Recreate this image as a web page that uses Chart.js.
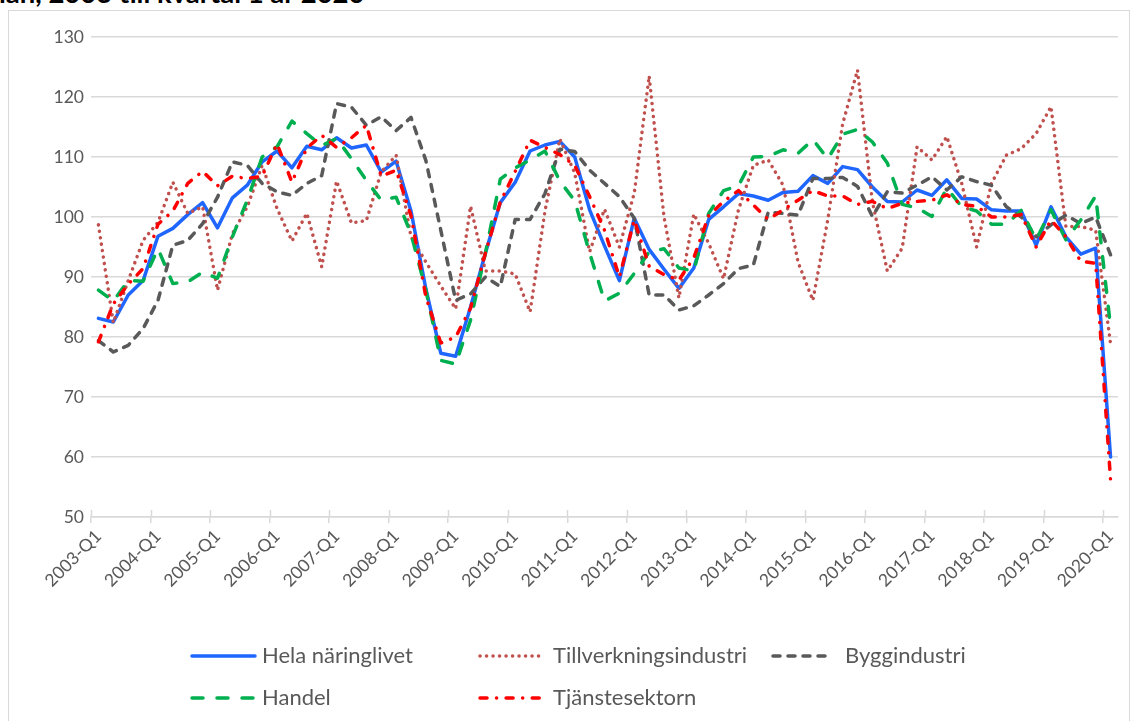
<!DOCTYPE html>
<html>
<head>
<meta charset="utf-8">
<script src="https://cdn.jsdelivr.net/npm/chart.js@4/dist/chart.umd.min.js"></script>
<style>
  html, body { margin: 0; padding: 0; background: #ffffff; overflow: hidden; }
  #wrap { position: relative; width: 1134px; height: 721px; overflow: hidden; }
  #frame { position: absolute; left: 8px; top: 10px; width: 1122px; height: 740px; border: 1.5px solid #d9d9d9; box-sizing: border-box; }
  #title { position: absolute; left: -1px; top: -21px; font: bold 27.5px Lato, "Open Sans", sans-serif; color: #000; white-space: nowrap; line-height: 27.5px; }
  #c { position: absolute; left: 0; top: 0; }
</style>
</head>
<body>
<div id="wrap">
  <div id="title">lan, 2003 till kvartal 1 år 2020</div>
  <div id="frame"></div>
  <canvas id="c" width="1134" height="721"></canvas>
</div>
<script>
const categories = [
  '2003-Q1','2003-Q2','2003-Q3','2003-Q4','2004-Q1','2004-Q2','2004-Q3','2004-Q4',
  '2005-Q1','2005-Q2','2005-Q3','2005-Q4','2006-Q1','2006-Q2','2006-Q3','2006-Q4',
  '2007-Q1','2007-Q2','2007-Q3','2007-Q4','2008-Q1','2008-Q2','2008-Q3','2008-Q4',
  '2009-Q1','2009-Q2','2009-Q3','2009-Q4','2010-Q1','2010-Q2','2010-Q3','2010-Q4',
  '2011-Q1','2011-Q2','2011-Q3','2011-Q4','2012-Q1','2012-Q2','2012-Q3','2012-Q4',
  '2013-Q1','2013-Q2','2013-Q3','2013-Q4','2014-Q1','2014-Q2','2014-Q3','2014-Q4',
  '2015-Q1','2015-Q2','2015-Q3','2015-Q4','2016-Q1','2016-Q2','2016-Q3','2016-Q4',
  '2017-Q1','2017-Q2','2017-Q3','2017-Q4','2018-Q1','2018-Q2','2018-Q3','2018-Q4',
  '2019-Q1','2019-Q2','2019-Q3','2019-Q4','2020-Q1'
];

const helaNaringslivet = [83.1,82.5,87.0,89.4,96.8,98.1,100.4,102.4,98.2,103.2,
  105.3,109.2,111.0,108.2,111.8,111.2,113.2,111.5,112.0,107.5,
  109.3,101.0,88.0,77.3,76.8,85.0,94.0,102.4,105.8,111.0,
  112.0,112.6,110.0,101.2,95.2,89.4,99.8,94.6,91.3,88.1,
  91.5,99.6,101.7,103.9,103.5,102.8,104.1,104.3,106.9,105.6,
  108.4,107.9,105.0,102.6,102.5,104.5,103.6,106.2,103.1,103.0,
  101.2,101.0,101.0,95.3,101.7,96.7,93.8,94.8,60.0];

const tillverkningsindustri = [98.7,82.4,89.4,96.1,99.1,105.8,100.6,101.7,87.8,97.2,
  101.7,108.6,101.4,96.0,100.6,91.7,106.0,99.0,99.4,107.5,
  110.3,96.7,92.5,88.5,84.7,101.8,91.0,91.0,90.5,84.2,
  101.0,113.0,107.3,94.2,101.3,95.0,104.0,123.5,100.0,86.5,
  100.5,95.6,89.7,101.2,108.6,109.5,105.3,92.5,86.1,99.5,
  115.5,124.5,102.5,91.0,94.8,111.7,109.5,113.4,105.6,95.0,
  105.6,110.3,111.4,113.9,118.4,98.4,98.4,97.8,78.9];

const byggindustri = [79.4,77.5,78.6,81.4,86.1,95.3,96.1,98.9,103.3,109.2,
  108.6,105.6,104.2,103.6,105.6,106.9,118.9,118.3,115.3,116.7,
  114.4,116.6,109.4,97.8,86.1,87.2,90.0,88.4,99.6,99.6,
  103.9,111.3,110.9,107.8,105.6,103.4,99.8,87.0,87.0,84.5,
  85.2,87.0,88.9,91.4,92.0,100.8,100.6,100.3,106.4,106.4,
  106.6,105.1,100.1,104.2,104.0,105.3,106.7,104.5,106.7,105.9,
  105.3,101.7,100.0,96.7,98.7,100.3,98.9,100.0,93.7];

const handel = [87.8,86.0,89.4,89.3,94.7,88.9,89.2,90.8,89.8,96.7,
  102.8,110.0,111.7,116.0,113.9,111.9,113.1,109.7,106.1,102.8,
  103.3,97.2,87.8,76.1,75.5,82.8,94.0,106.3,108.2,109.5,
  111.0,106.0,102.7,94.0,86.0,87.3,90.6,94.2,94.7,91.5,
  91.0,100.6,104.4,105.2,110.0,110.1,111.2,110.6,112.9,109.7,
  113.8,114.6,112.5,109.0,102.1,101.5,100.1,104.8,101.7,101.0,
  98.8,98.8,101.1,96.2,101.2,96.2,99.5,103.5,81.7];

const tjanstesektorn = [79.2,85.5,88.8,91.4,98.8,101.0,105.6,107.6,105.2,106.8,
  106.4,106.8,112.2,105.8,111.5,113.6,111.6,113.2,115.3,106.8,
  107.8,100.2,86.7,79.0,80.0,84.8,94.0,102.5,107.6,112.8,
  111.6,110.4,108.6,103.4,97.8,90.0,99.5,91.8,90.4,89.5,
  93.2,100.2,102.6,104.4,102.0,99.6,101.2,102.8,104.4,103.5,
  103.5,102.1,102.6,101.4,102.3,102.6,102.8,103.7,102.1,101.8,
  100.0,100.0,100.4,95.0,99.5,96.7,92.6,92.3,56.2];

const yTicks = [50, 60, 70, 80, 90, 100, 110, 120, 130];
const seriesNames = ['Hela näringlivet','Tillverkningsindustri','Byggindustri','Handel','Tjänstesektorn'];

const FONT = 'Lato';
const TEXT = '#595959';
const GRID = '#d9d9d9';

const legendLayout = [
  { ds: 0, x0: 192, x1: 255, tx: 262, y: 656 },
  { ds: 1, x0: 480, x1: 541, tx: 553, y: 656 },
  { ds: 2, x0: 773, x1: 833, tx: 845, y: 656 },
  { ds: 3, x0: 192, x1: 255, tx: 262, y: 698 },
  { ds: 4, x0: 480, x1: 541, tx: 553, y: 698 }
];

const customPlugin = {
  id: 'customPlugin',
  beforeDatasetsDraw(chart) {
    const ctx = chart.ctx;
    const xs = chart.scales.x;
    const w = xs.getPixelForValue(1) - xs.getPixelForValue(0);
    ctx.save();
    ctx.strokeStyle = GRID;
    ctx.lineWidth = 1.5;
    ctx.beginPath();
    for (let i = 0; i < categories.length; i += 4) {
      const px = Math.round(xs.getPixelForValue(i) - w / 2) + 0.5;
      ctx.moveTo(px, chart.chartArea.bottom - 7);
      ctx.lineTo(px, chart.chartArea.bottom);
    }
    ctx.stroke();
    ctx.restore();
  },
  afterDraw(chart) {
    const ctx = chart.ctx;
    ctx.save();
    legendLayout.forEach(it => {
      const ds = chart.data.datasets[it.ds];
      ctx.beginPath();
      ctx.strokeStyle = ds.borderColor;
      ctx.lineWidth = ds.borderWidth;
      ctx.lineCap = ds.borderCapStyle || 'butt';
      ctx.setLineDash(ds.borderDash || []);
      ctx.moveTo(it.x0, it.y);
      ctx.lineTo(it.x1, it.y);
      ctx.stroke();
      ctx.setLineDash([]);
      ctx.fillStyle = TEXT;
      ctx.font = '22px ' + FONT;
      ctx.textBaseline = 'middle';
      ctx.textAlign = 'left';
      ctx.fillText(ds.label, it.tx, it.y);
    });
    ctx.restore();
  }
};

const common = { pointRadius: 0, pointHoverRadius: 0, tension: 0, fill: false, borderJoinStyle: 'round' };

new Chart(document.getElementById('c'), {
  type: 'line',
  data: {
    labels: categories,
    datasets: [
      Object.assign({ label: seriesNames[0], data: helaNaringslivet, borderColor: '#1f66ff', borderWidth: 3.5, borderCapStyle: 'round', order: 5 }, common),
      Object.assign({ label: seriesNames[1], data: tillverkningsindustri, borderColor: '#c0504d', borderWidth: 3.5, borderCapStyle: 'round', borderDash: [0.1, 6.4], order: 4 }, common),
      Object.assign({ label: seriesNames[2], data: byggindustri, borderColor: '#595959', borderWidth: 3.5, borderCapStyle: 'round', borderDash: [7, 8], order: 3 }, common),
      Object.assign({ label: seriesNames[3], data: handel, borderColor: '#00b050', borderWidth: 3.5, borderCapStyle: 'round', borderDash: [11, 14], order: 2 }, common),
      Object.assign({ label: seriesNames[4], data: tjanstesektorn, borderColor: '#ff0000', borderWidth: 3.5, borderCapStyle: 'round', borderDash: [7, 9.5, 0.1, 9.5], order: 1 }, common)
    ]
  },
  options: {
    responsive: false,
    animation: false,
    devicePixelRatio: 1,
    layout: { padding: { left: 0, right: 16, top: 37, bottom: 0 } },
    plugins: { legend: { display: false }, tooltip: { enabled: false }, title: { display: false } },
    scales: {
      x: {
        type: 'category',
        offset: true,
        grid: {
          offset: true,
          drawOnChartArea: false,
          drawTicks: true,
          tickLength: 6,
          lineWidth: 1.5,
          color: (c) => (c.index !== undefined && c.index % 4 === 0) ? GRID : 'rgba(0,0,0,0)'
        },
        border: { display: true, color: GRID, width: 1.5 },
        ticks: {
          autoSkip: false,
          minRotation: 45,
          maxRotation: 45,
          padding: 3,
          color: TEXT,
          font: { family: FONT, size: 17.5 },
          callback: (v, i) => (i % 4 === 0 ? categories[i] : '')
        },
        afterFit: (s) => { s.height = 204; }
      },
      y: {
        min: yTicks[0],
        max: yTicks[yTicks.length - 1],
        afterBuildTicks: (s) => { s.ticks = yTicks.map(v => ({ value: v })); },
        grid: { color: GRID, lineWidth: 1.5, drawTicks: false },
        border: { display: false },
        ticks: { color: TEXT, padding: 7, font: { family: FONT, size: 17.5 } },
        afterFit: (s) => { s.width = 91; }
      }
    }
  },
  plugins: [customPlugin]
});
</script>
</body>
</html>
